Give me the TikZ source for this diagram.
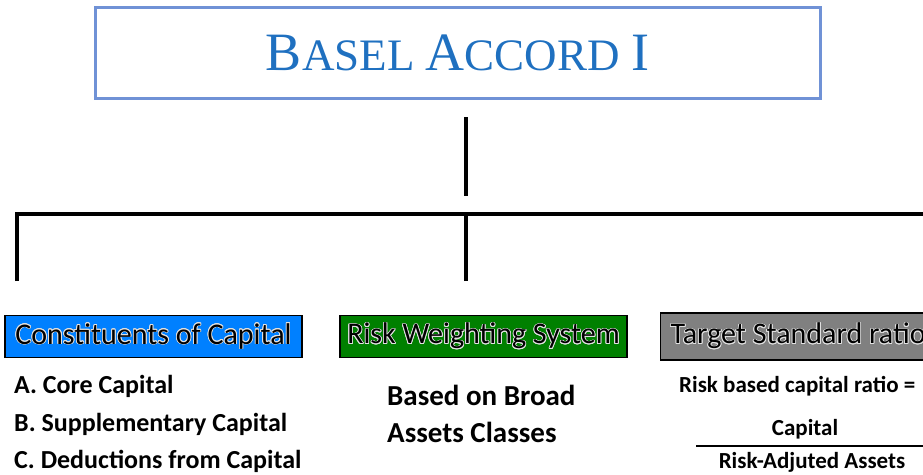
\documentclass[tikz,border=0pt]{standalone}
\usepackage{fontspec}
\setmainfont{Carlito}
\newfontfamily\titlefont{Liberation Serif}
\usepackage{contour}
\contourlength{0.8pt}
\usetikzlibrary{positioning}

\definecolor{titleblue}{RGB}{31,112,192}
\definecolor{frameblue}{RGB}{112,146,214}
\definecolor{capblue}{RGB}{0,128,255}
\definecolor{riskgreen}{RGB}{0,128,0}
\definecolor{ratiogray}{RGB}{128,128,128}
\definecolor{glow}{RGB}{225,225,225}

% hand-made small caps for the heading
\newcommand\capsbig[1]{{\fontsize{54}{54}\selectfont #1}}
\newcommand\capssmall[1]{{\fontsize{45}{45}\selectfont #1}}
% pillar titles with a light halo
\newcommand\glowtext[1]{\contour{glow}{#1}}

\tikzset{
	branch/.style = {line width=4pt},
	head/.style = {draw, line width=1.2pt, minimum height=42pt, inner sep=0pt,
		font=\fontsize{30}{30}\selectfont},
	item/.style = {anchor=west, inner sep=0pt, font=\bfseries\fontsize{26}{26}\selectfont},
	ratio/.style = {inner sep=0pt, font=\bfseries\fontsize{23}{23}\selectfont},
}

\begin{document}
\begin{tikzpicture}[x=1pt, y=-1pt]
	\path[use as bounding box, clip] (0,0) rectangle (923,474);

	\node[draw=frameblue, line width=3pt, minimum width=725pt, minimum height=91pt] (basel) at (457.5,52.5)
		{\titlefont\color{titleblue}\capsbig{B}\capssmall{ASEL }\capsbig{A}\capssmall{CCORD }\capsbig{I}};

	% tree
	\coordinate (stemtop) at (466,117);
	\coordinate (stembot) at (466,196);
	\coordinate (capleg) at (17,281);
	\coordinate (riskleg) at (466,281);
	\coordinate (riskjoin) at (466,214);
	\coordinate (barend) at (940,214);
	\draw[branch] (stemtop) -- (stembot);
	\draw[branch] (capleg) |- (barend);
	\draw[branch] (riskleg) -- (riskjoin);

	% the three pillars
	\node[head, fill=capblue, minimum width=297pt] (cons) at (153.5,336.5) {\glowtext{Constituents of Capital}};
	\node[head, fill=riskgreen, minimum width=287pt] (risk) at (483.5,336.5) {\glowtext{Risk Weighting System}};
	\node[head, fill=ratiogray, minimum height=47pt, anchor=west, inner xsep=10pt] (target) at (660,336.5) {\glowtext{Target Standard ratio}};

	\node[item] (core) at (14,386) {A. Core Capital};
	\node[item] (supp) at (14,424) {B. Supplementary Capital};
	\node[item] (deduct) at (14,461) {C. Deductions from Capital};

	\node[item, font=\bfseries\fontsize{29}{29}\selectfont] (broad) at (387,395) {Based on Broad};
	\node[item, font=\bfseries\fontsize{29}{29}\selectfont] (classes) at (387,432) {Assets Classes};

	\node[ratio, anchor=west] (rbcr) at (679,386) {Risk based capital ratio =};
	\node[ratio] (num) at (805,429) {Capital};
	\node[ratio] (den) at (812,462) {Risk-Adjuted Assets};
	\coordinate (fracL) at (696,446);
	\coordinate (fracR) at (940,446);
	\draw[line width=1.5pt] (fracL) -- (fracR);
\end{tikzpicture}
\end{document}
